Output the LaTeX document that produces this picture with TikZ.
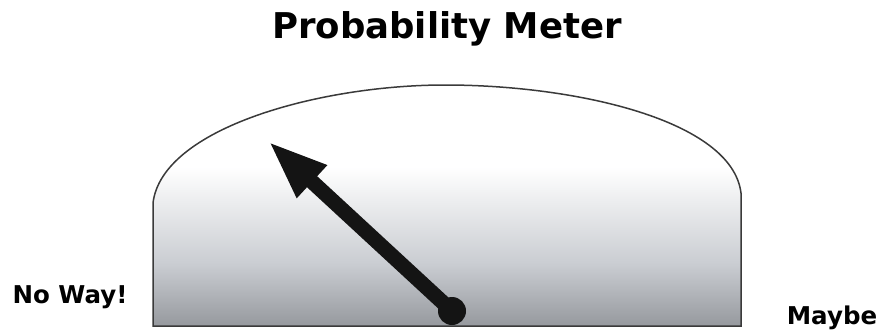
\documentclass[tikz,border=0pt]{standalone}
\usepackage{fontspec}
\setmainfont{DejaVu Sans}
\usetikzlibrary{arrows.meta}
\definecolor{meterline}{HTML}{3A3A3A}
\definecolor{meterdark}{HTML}{96999E}
\definecolor{metermid}{HTML}{CACDD2}
\definecolor{needleblack}{HTML}{141414}
\pgfdeclareverticalshading{meterfade}{100bp}{color(0bp)=(meterdark); color(25bp)=(meterdark); color(38bp)=(metermid); color(58bp)=(white); color(100bp)=(white)}

\begin{document}
\begin{tikzpicture}[x=1pt, y=-1pt,
    title/.style={font=\bfseries\fontsize{35.5}{38}\selectfont, text=black},
    endlabel/.style={font=\bfseries\fontsize{24.5}{26}\selectfont, text=black},
    needle/.style={-{Triangle[length=60pt, width=40pt]}, line width=15pt, needleblack},
  ]
  \useasboundingbox (0,0) rectangle (892,335);

  % dial face
  \shade[shading=meterfade, draw=meterline, line width=1.5pt]
    (153,326) -- (153,203)
    .. controls (162,128) and (320,85) .. (445,85)
    .. controls (575,85) and (732,120) .. (741,193)
    -- (741,326) -- cycle;

  \node[title] (title) at (447,29) {Probability Meter};
  \node[endlabel] (noway) at (70,297) {No Way!};
  \node[endlabel] (maybe) at (832,318) {Maybe};

  % needle
  \coordinate (tip) at (268,141);
  \node[circle, fill=needleblack, minimum size=28pt, inner sep=0pt] (hub) at (452,311) {};
  \draw[needle] (hub.center) -- (tip);
\end{tikzpicture}
\end{document}
